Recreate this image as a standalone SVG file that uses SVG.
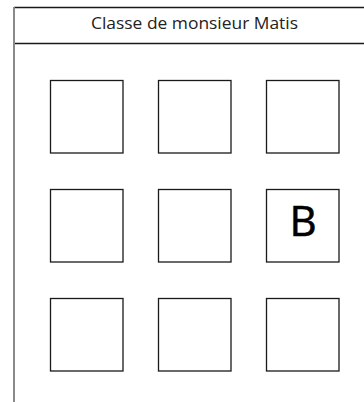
<svg xmlns="http://www.w3.org/2000/svg" width="364" height="402" viewBox="0 0 364 402">
<style>
.frame{stroke:#1a1a1a;stroke-width:1.3;fill:none}
.wall{stroke:#8a8a8a;stroke-width:2;fill:none}
.desk{fill:#fff;stroke:#1a1a1a;stroke-width:1.3}
.title{font-family:"Open Sans","DejaVu Sans",sans-serif;font-size:17px;fill:#222}
.lbl{font-family:"Open Sans","DejaVu Sans",sans-serif;font-size:42px;fill:#000;stroke:#000;stroke-width:0.6}
</style>
<rect width="364" height="402" fill="#fff"/>
<g id="frame">
<line class="frame" x1="14" y1="7.5" x2="364" y2="7.5"/>
<line class="frame" x1="14" y1="43.5" x2="364" y2="43.5"/>
<line class="wall" x1="14" y1="7" x2="14" y2="402"/>
<text class="title" x="194.5" y="28.5" text-anchor="middle" textLength="207" lengthAdjust="spacingAndGlyphs">Classe de monsieur Matis</text>
</g>
<g id="connectors"></g>
<g id="desk-1-1"><rect class="desk" x="50.5" y="80.5" width="72.5" height="72.5"/></g>
<g id="desk-1-2"><rect class="desk" x="158.5" y="80.5" width="72.5" height="72.5"/></g>
<g id="desk-1-3"><rect class="desk" x="266.5" y="80.5" width="72.5" height="72.5"/></g>
<g id="desk-2-1"><rect class="desk" x="50.5" y="189.5" width="72.5" height="72.5"/></g>
<g id="desk-2-2"><rect class="desk" x="158.5" y="189.5" width="72.5" height="72.5"/></g>
<g id="desk-2-3"><rect class="desk" x="266.5" y="189.5" width="72.5" height="72.5"/><text class="lbl" x="303" y="236" text-anchor="middle">B</text></g>
<g id="desk-3-1"><rect class="desk" x="50.5" y="298.5" width="72.5" height="72.5"/></g>
<g id="desk-3-2"><rect class="desk" x="158.5" y="298.5" width="72.5" height="72.5"/></g>
<g id="desk-3-3"><rect class="desk" x="266.5" y="298.5" width="72.5" height="72.5"/></g>
</svg>
